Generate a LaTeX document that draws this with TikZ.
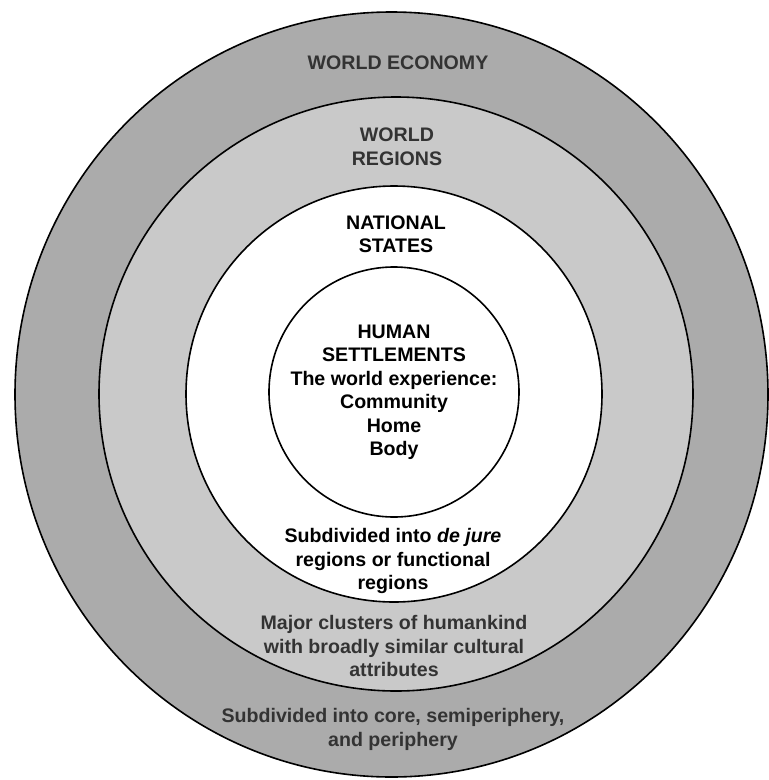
\documentclass[tikz,border=0pt]{standalone}
\usepackage{fontspec}
\setmainfont{Liberation Sans}
\begin{document}
\begin{tikzpicture}[x=1pt,y=-1pt,
  ring/.style={draw=black,line width=1.6pt},
  label/.style={align=center,font=\bfseries\fontsize{19.6}{23.5}\selectfont,inner sep=0pt},
  outerlabel/.style={label,text=black!80},
  innerlabel/.style={label,text=black}]
\useasboundingbox (0,0) rectangle (769,780);
\fill[white] (0,0) rectangle (769,780);

% nested rings, from the world economy inwards
\draw[ring,fill=black!33] (391.5,394.5) ellipse [x radius=376.5,y radius=382.5];
\draw[ring,fill=black!21] (396,394) circle [radius=297];
\draw[ring,fill=white] (394,394) circle [radius=208];
\draw[ring,fill=white] (394,392) circle [radius=125];

% labels
\node[outerlabel] (econ) at (398,63) {WORLD ECONOMY};
\node[outerlabel] (regions) at (397,146.5) {WORLD\\REGIONS};
\node[innerlabel] (national) at (396,234) {NATIONAL\\STATES};
\node[innerlabel] (human) at (394,392.5)
  {HUMAN\\SETTLEMENTS\\The world experience:\\Community\\Home\\Body};
\node[innerlabel] (dejure) at (393,561)
  {Subdivided into \textit{de jure}\\regions or functional\\regions};
\node[outerlabel] (clusters) at (394,646)
  {Major clusters of humankind\\with broadly similar cultural\\attributes};
\node[outerlabel] (core) at (393,729.5)
  {Subdivided into core, semiperiphery,\\and periphery};
\end{tikzpicture}
\end{document}
